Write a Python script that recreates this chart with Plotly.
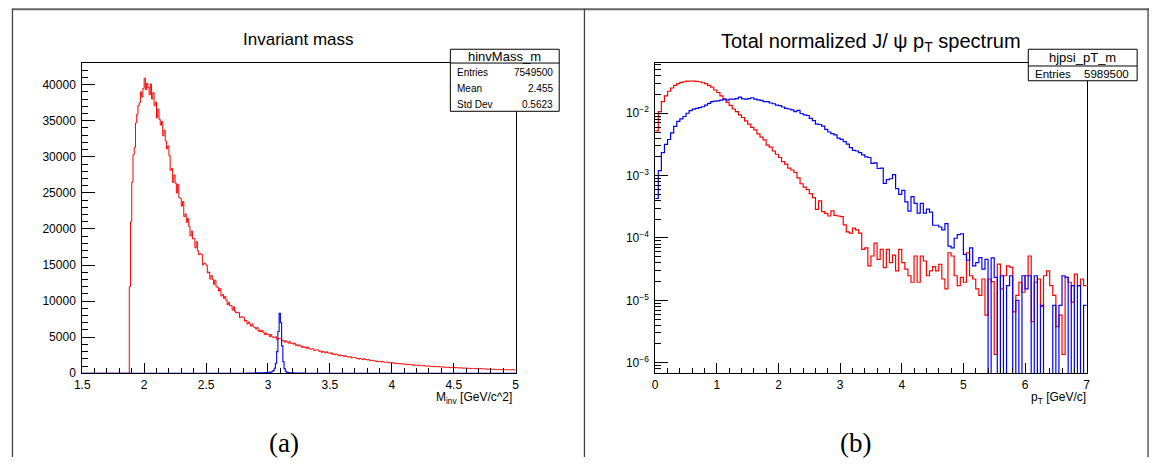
import numpy as np
import plotly.graph_objects as go

W, H = 1155, 464

# ---------------- panel (a): invariant mass ----------------
mass_lo, mass_hi, mass_nbins = 1.5, 5.0, 350
mass_red = [0] * 38 + [
    12000, 21000,
    26500, 30300, 31300, 34700, 35900, 37100, 37500, 39000, 38300, 39500,
    40900, 39300, 40200, 39600, 38600, 40100, 38000, 38900, 37100, 37600,
    35400, 36600, 35200, 34400, 34900, 32900, 33700, 32200, 31100, 31500,
    30180, 28140, 28400, 26430, 27480, 26350, 24990, 26180, 24330, 24230,
    23170, 23810, 21710, 22090, 20930, 21480, 20340, 19040, 19710, 18620,
    18670, 17380, 18240, 16990, 16440, 16560, 16500, 15010, 15260, 15180,
    14940, 13920, 14040, 13060, 13570, 13000, 12320, 12900, 11980, 11920,
    11390, 11720, 10710, 10920, 10370, 10660, 10120, 9490, 9850, 9340,
    9380, 8760, 9210, 8600, 8350, 8430, 8430, 7690, 7840, 7820,
    7730, 7220, 7310, 6830, 7120, 6850, 6520, 6850, 6400, 6390,
    6140, 6350, 5840, 5990, 5720, 5920, 5660, 5350, 5590, 5340,
    5410, 5080, 5380, 5050, 4940, 5020, 5060, 4650, 4780, 4810,
    4790, 4500, 4580, 4300, 4510, 4370, 4180, 4420, 4150, 4180,
    4040, 4190, 3860, 3970, 3800, 3940, 3780, 3580, 3750, 3590,
    3650, 3430, 3630, 3410, 3340, 3390, 3420, 3140, 3230, 3250,
    3230, 3040, 3090, 2900, 3050, 2950, 2820, 2990, 2810, 2830,
    2730, 2840, 2610, 2680, 2570, 2670, 2560, 2420, 2540, 2430,
    2470, 2320, 2450, 2310, 2250, 2290, 2310, 2120, 2180, 2190,
    2180, 2050, 2090, 1960, 2060, 1990, 1910, 2020, 1890, 1900,
    1840, 1910, 1760, 1810, 1730, 1800, 1720, 1630, 1710, 1640,
    1660, 1560, 1650, 1550, 1520, 1550, 1560, 1430, 1470, 1480,
    1470, 1380, 1410, 1320, 1390, 1345, 1290, 1360, 1280, 1290,
    1250, 1290, 1190, 1230, 1180, 1220, 1170, 1110, 1160, 1110,
    1130, 1060, 1130, 1060, 1040, 1060, 1060, 980, 1010, 1010,
    1010, 950, 970, 910, 950, 925, 890, 940, 880, 890,
    860, 900, 830, 850, 820, 850, 820, 770, 810, 780,
    800, 750, 790, 750, 730, 750, 750, 700, 720, 720,
    720, 680, 690, 650, 690, 665, 640, 680, 640, 640,
    620, 650, 600, 620, 590, 620, 590, 560, 590, 570,
    580, 540, 580, 540, 530, 540, 550, 510, 520, 530,
    530, 490, 500, 480, 500, 485, 470, 490, 470, 470,
]
mass_blue = [0] * 133 + [
    20, 30, 25, 40, 30, 45, 35, 50, 40, 55, 60, 50, 70, 65, 80, 90, 100,
    110, 130, 160,
    220, 380, 700, 1400, 3000, 5800, 8300, 7000, 3800, 1600, 650, 280, 140, 90,
    70, 60, 50, 55, 40, 45, 35, 30, 35, 25, 20, 25, 15,
] + [0] * 170
mass_xticks = [1.5, 2, 2.5, 3, 3.5, 4, 4.5, 5]
mass_xlabels = ["1.5", "2", "2.5", "3", "3.5", "4", "4.5", "5"]
mass_yticks = [0, 5000, 10000, 15000, 20000, 25000, 30000, 35000, 40000]

# ---------------- panel (b): pT spectrum ----------------
pt_lo, pt_hi, pt_nbins = 0.0, 7.0, 140
pt_red = [
    5.2e-3, 1.06e-2, 1.53e-2, 1.90e-2, 2.25e-2, 2.54e-2, 2.80e-2, 2.98e-2, 3.12e-2, 3.20e-2,
    3.28e-2, 3.29e-2, 3.27e-2, 3.24e-2, 3.20e-2, 3.08e-2, 2.98e-2, 2.80e-2, 2.61e-2, 2.36e-2,
    2.15e-2, 1.90e-2, 1.68e-2, 1.49e-2, 1.34e-2, 1.17e-2, 1.06e-2, 9.4e-3, 8.55e-3, 7.57e-3,
    6.70e-3, 5.94e-3, 5.40e-3, 4.66e-3, 4.13e-3, 3.75e-3, 3.08e-3, 2.87e-3, 2.48e-3, 2.20e-3,
    1.95e-3, 1.68e-3, 1.53e-3, 1.32e-3, 1.23e-3, 1.13e-3, 9.2e-4, 7.4e-4, 6.55e-4, 5.94e-4,
    5.14e-4, 4.43e-4, 2.87e-4, 3.94e-4, 2.64e-4, 2.48e-4, 2.25e-4, 2.73e-4, 2.31e-4, 2.25e-4,
    2.20e-4, 1.62e-4, 1.25e-4, 1.20e-4, 1.44e-4, 1.35e-4, 1.20e-4, 6.55e-5, 6.95e-5, 3.57e-5,
    5.14e-5, 8.3e-5, 4.55e-5, 6.55e-5, 3.36e-5, 6.55e-5, 4.03e-5, 5.3e-5, 2.98e-5, 6.55e-5,
    4.03e-5, 3.16e-5, 2.48e-5, 1.95e-5, 5.14e-5, 1.95e-5, 5.14e-5, 4.28e-5, 2.48e-5, 2.98e-5,
    3.48e-5, 2.98e-5, 3.79e-5, 2.20e-5, 1.53e-5, 5.8e-5, 5.14e-5, 2.48e-5, 1.72e-5, 2.34e-5,
    1.95e-5, 5.8e-5, 2.48e-5, 2.20e-5, 1.53e-5, 1.20e-5, 2.20e-5, 5.8e-6, 2.2e-5, 2.0e-5,
    1.36e-6, 3.8e-5, 1.53e-5, 2.48e-5, 3.57e-5, 3.4e-5, 6.55e-6, 1.2e-5, 1.95e-5, 1.35e-5,
    2.48e-5, 5.14e-5, 4.55e-6, 1.95e-5, 2.2e-5, 7.9e-6, 2.48e-5, 2.98e-5, 1.72e-5, 1.2e-5,
    3.8e-6, 5.8e-6, 1.36e-6, 2.34e-5, 1.95e-5, 9.4e-6, 2.63e-5, 1.72e-5, 2.2e-5, 1.72e-5,
]
pt_blue = [
    4.3e-4, 1.2e-3, 2.34e-3, 3.16e-3, 3.79e-3, 4.83e-3, 6.16e-3, 7.4e-3, 8.1e-3, 8.86e-3,
    1.0e-2, 1.10e-2, 1.16e-2, 1.20e-2, 1.23e-2, 1.27e-2, 1.35e-2, 1.44e-2, 1.53e-2, 1.56e-2,
    1.58e-2, 1.62e-2, 1.68e-2, 1.62e-2, 1.68e-2, 1.68e-2, 1.72e-2, 1.81e-2, 1.70e-2, 1.68e-2,
    1.72e-2, 1.77e-2, 1.68e-2, 1.64e-2, 1.61e-2, 1.53e-2, 1.53e-2, 1.46e-2, 1.42e-2, 1.35e-2,
    1.32e-2, 1.26e-2, 1.20e-2, 1.17e-2, 1.13e-2, 1.06e-2, 1.11e-2, 9.9e-3, 9.4e-3, 9.2e-3,
    8.3e-3, 7.6e-3, 6.7e-3, 6.6e-3, 6.2e-3, 5.5e-3, 5.0e-3, 4.7e-3, 4.5e-3, 4.0e-3,
    3.8e-3, 3.5e-3, 3.2e-3, 2.80e-3, 2.54e-3, 2.48e-3, 2.34e-3, 2.15e-3, 2.00e-3, 1.95e-3,
    1.57e-3, 1.60e-3, 1.30e-3, 1.32e-3, 7.5e-4, 8.6e-4, 8.9e-4, 1.04e-3, 6.2e-4, 5.0e-4,
    5.8e-4, 3.8e-4, 2.7e-4, 4.6e-4, 3.6e-4, 2.5e-4, 3.6e-4, 2.5e-4, 2.9e-4, 2.6e-4,
    1.6e-4, 1.6e-4, 1.5e-4, 1.35e-4, 1.7e-4, 7.4e-5, 6.95e-5, 9.9e-5, 1.13e-4, 1.17e-4,
    5.46e-5, 4.4e-5, 6.95e-5, 3.57e-5, 4.03e-5, 4.83e-5, 3.16e-5, 4.55e-5, 0, 4.8e-5,
    2.34e-5, 0, 2.48e-5, 0, 1.72e-5, 2.48e-5, 0, 1.0e-5, 0, 2.48e-5,
    1.53e-5, 2.48e-5, 0, 2.48e-5, 0, 8.3e-6, 0, 0, 0, 8.3e-6,
    0, 8.3e-6, 2.48e-5, 2.34e-5, 0, 1.72e-5, 0, 1.72e-5, 0, 8.3e-6,
]
pt_xticks = [0, 1, 2, 3, 4, 5, 6, 7]
pt_ydecades = [-6, -5, -4, -3, -2]

# stats boxes
stats_a_name = "hinvMass_m"
stats_a_rows = [("Entries", "7549500"), ("Mean", "2.455"), ("Std Dev", "0.5623")]
stats_b_name = "hjpsi_pT_m"
stats_b_rows = [("Entries", "5989500")]

SANS = "Liberation Sans, Arial, Helvetica, sans-serif"
SERIF = "Liberation Serif, Times New Roman, serif"


def px(x):
    return x / W


def py(y):
    return 1 - y / H


def step_xy(lo, hi, vals):
    e = np.linspace(lo, hi, len(vals) + 1)
    v = np.asarray(vals, dtype=float)
    return np.concatenate([e[:-1], e[-1:]]), np.concatenate([v, v[-1:]])


fig = go.Figure()

x, y = step_xy(mass_lo, mass_hi, mass_red)
fig.add_trace(go.Scatter(x=x, y=y, mode="lines", line=dict(color="#ff0000", width=1, shape="hv"),
                         xaxis="x", yaxis="y", hoverinfo="skip"))
x, y = step_xy(mass_lo, mass_hi, mass_blue)
fig.add_trace(go.Scatter(x=x, y=y, mode="lines", line=dict(color="#0000ff", width=1.1, shape="hv"),
                         xaxis="x", yaxis="y", hoverinfo="skip"))

FLOOR = 1e-12  # empty bins drawn down past the bottom of the log frame, like ROOT
for vals, col in ((pt_red, "#ff0000"), (pt_blue, "#0000ff")):
    x, y = step_xy(pt_lo, pt_hi, vals)
    y = np.where(y > 0, y, FLOOR)
    fig.add_trace(go.Scatter(x=x, y=y, mode="lines", line=dict(color=col, width=1.2, shape="hv"),
                             xaxis="x2", yaxis="y2", hoverinfo="skip"))

tickfont = dict(family=SANS, size=12, color="black")
common = dict(showline=True, linecolor="black", linewidth=1, mirror=True, showgrid=False,
              zeroline=False, ticks="inside", tickcolor="black", tickwidth=1, tickfont=tickfont)

ydom = [py(379), py(64)]
minor_log = [k * 10.0 ** d for d in range(-7, -1) for k in range(2, 10)]

fig.update_layout(
    width=W, height=H, margin=dict(l=0, r=0, t=0, b=0),
    paper_bgcolor="white", plot_bgcolor="white", showlegend=False,
    xaxis=dict(domain=[px(75), px(513)], range=[mass_lo, mass_hi], anchor="y",
               tickmode="array", tickvals=mass_xticks, ticktext=mass_xlabels, ticklen=10,
               minor=dict(tickmode="linear", tick0=1.5, dtick=0.1, ticks="inside", ticklen=5,
                          tickcolor="black", showgrid=False), **common),
    yaxis=dict(domain=ydom, range=[0, 43000], anchor="x",
               tickmode="array", tickvals=mass_yticks, ticktext=[str(v) for v in mass_yticks],
               ticklen=13, ticklabelstandoff=3,
               minor=dict(tickmode="linear", tick0=0, dtick=1000, ticks="inside", ticklen=6,
                          tickcolor="black", showgrid=False), **common),
    xaxis2=dict(domain=[px(654), px(1090)], range=[pt_lo, pt_hi], anchor="y2",
                tickmode="array", tickvals=pt_xticks, ticktext=[str(v) for v in pt_xticks],
                ticklen=10,
                minor=dict(tickmode="linear", tick0=0, dtick=0.2, ticks="inside", ticklen=5,
                           tickcolor="black", showgrid=False), **common),
    yaxis2=dict(domain=ydom, type="log", range=[-6.169, -1.195], anchor="x2",
                tickmode="array", tickvals=[10.0 ** d for d in pt_ydecades],
                ticktext=["10<sup>\u2212%d</sup>" % (-d) for d in pt_ydecades],
                ticklen=13, ticklabelstandoff=3,
                minor=dict(tickmode="array", tickvals=minor_log, ticks="inside", ticklen=6,
                           tickcolor="black", showgrid=False), **common),
)

shapes = []
# page rules (table frame)
shapes.append(dict(type="line", xref="paper", yref="paper", x0=px(4), x1=px(1153), y0=py(9.5), y1=py(9.5),
                   line=dict(color="#666666", width=2)))
for xv in (4.5, 582.5, 1152):
    shapes.append(dict(type="line", xref="paper", yref="paper", x0=px(xv), x1=px(xv), y0=py(9), y1=py(464),
                       line=dict(color="#444444", width=1.3)))

anns = []


def ann(text, x, y, size, xanchor="center", yanchor="middle", family=SANS):
    anns.append(dict(text=text, x=px(x), y=py(y), xref="paper", yref="paper", showarrow=False,
                     xanchor=xanchor, yanchor=yanchor, font=dict(family=family, size=size, color="black")))


# stats box (a)
shapes.append(dict(type="rect", xref="paper", yref="paper", x0=px(447), x1=px(557), y0=py(113), y1=py(50),
                   line=dict(color="black", width=1), fillcolor="white"))
shapes.append(dict(type="line", xref="paper", yref="paper", x0=px(447), x1=px(557), y0=py(64), y1=py(64),
                   line=dict(color="black", width=1)))
ann(stats_a_name, 502, 57, 13)
for k, (lab, val) in enumerate(stats_a_rows):
    yy = 74 + 16 * k
    ann(lab, 452, yy, 10, xanchor="left")
    ann(val, 553, yy, 10, xanchor="right")

# stats box (b)
shapes.append(dict(type="rect", xref="paper", yref="paper", x0=px(1031), x1=px(1141), y0=py(82), y1=py(50),
                   line=dict(color="black", width=1), fillcolor="white"))
shapes.append(dict(type="line", xref="paper", yref="paper", x0=px(1031), x1=px(1141), y0=py(67), y1=py(67),
                   line=dict(color="black", width=1)))
ann(stats_b_name, 1086, 58, 13)
for k, (lab, val) in enumerate(stats_b_rows):
    ann(lab, 1036, 75, 11.5, xanchor="left")
    ann(val, 1135, 75, 11.5, xanchor="right")

# titles
ann("Invariant mass", 294, 40, 17)
ann("Total normalized J/ \u03c8 p<sub>T</sub> spectrum", 872, 43, 20)
# axis titles
ann("M<sub>inv</sub> [GeV/c^2]", 511, 404, 12, xanchor="right")
ann("p<sub>T</sub> [GeV/c]", 1091, 404, 12, xanchor="right")
# captions
ann("(a)", 279, 450, 27, family=SERIF)
ann("(b)", 856, 450, 27, family=SERIF)

fig.update_layout(shapes=shapes, annotations=anns)
fig.write_html("out.html", config={"displayModeBar": False})
